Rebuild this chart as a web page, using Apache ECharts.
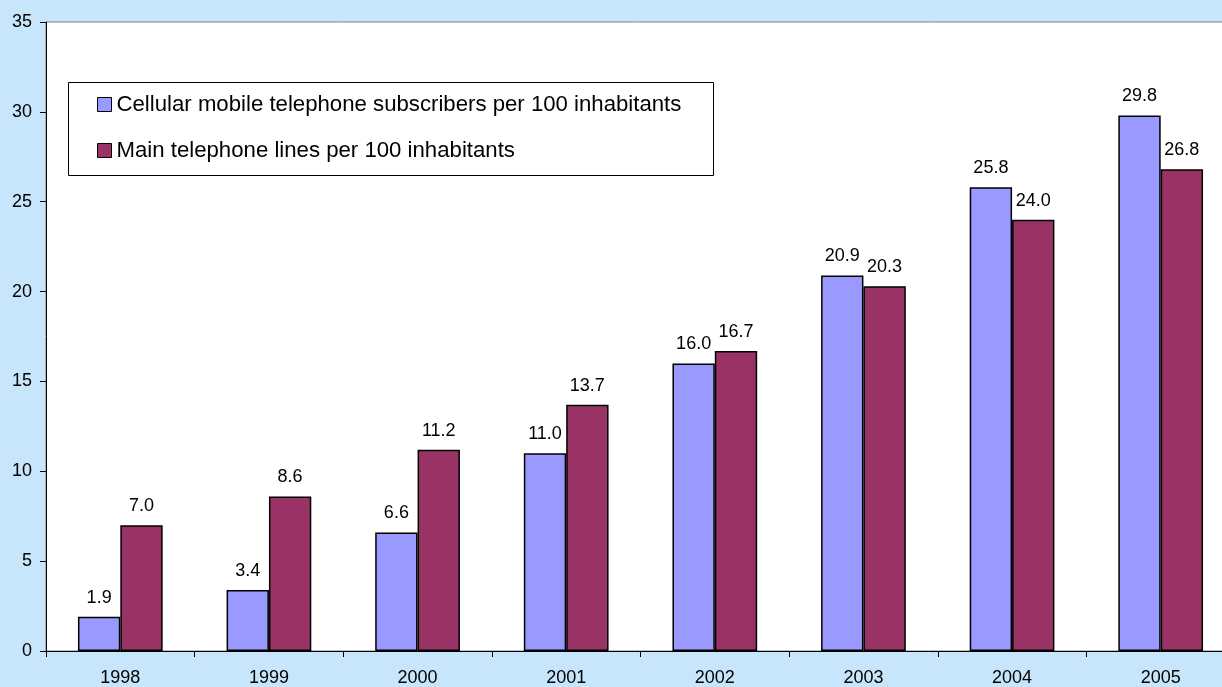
<!DOCTYPE html>
<html><head><meta charset="utf-8">
<script src="https://cdn.jsdelivr.net/npm/echarts@6/dist/echarts.min.js"></script>
<style>html,body{margin:0;padding:0;background:#C7E6FB;}#c{width:1222px;height:687px;}</style>
</head><body><div id="c"></div>
<script>
const years = ['1998','1999','2000','2001','2002','2003','2004','2005'];
const cellular = [1.9, 3.4, 6.6, 11.0, 16.0, 20.9, 25.8, 29.8];
const mainLines = [7.0, 8.6, 11.2, 13.7, 16.7, 20.3, 24.0, 26.8];
const seriesNames = ['Cellular mobile telephone subscribers per 100 inhabitants', 'Main telephone lines per 100 inhabitants'];
const FONT = '"Liberation Sans", Arial, sans-serif';
const chart = echarts.init(document.getElementById('c'));
const lbl = {show:true, position:'top', distance:10, color:'#000', fontSize:18, fontFamily:FONT, formatter: p => p.value.toFixed(1)};
chart.setOption({
  backgroundColor:'#C7E6FB',
  animation:false,
  grid:{left:46, width:1189, top:22, height:629, outerBoundsMode:'none', containLabel:false,
    show:true, backgroundColor:'#fff', borderColor:'#808080', borderWidth:1},
  legend:{
    orient:'vertical', left:97, top:93.5, padding:0, itemWidth:14, itemHeight:14, itemGap:24,
    icon:'rect', z:10,
    textStyle:{fontSize:22.2, fontFamily:FONT, color:'#000'},
    itemStyle:{borderColor:'#000', borderWidth:1},
    data:seriesNames
  },
  graphic:[{type:'rect', left:68, top:82, shape:{width:645, height:93}, style:{fill:'#fff', stroke:'#000', lineWidth:1}, z:5, silent:true}],
  xAxis:{type:'category', data:years,
    axisLine:{lineStyle:{color:'#000'}}, axisTick:{show:true, length:6, lineStyle:{color:'#000'}},
    axisLabel:{color:'#000', fontSize:18, fontFamily:FONT, margin:18}},
  yAxis:{type:'value', min:0, max:35, interval:5,
    axisLine:{show:true, lineStyle:{color:'#000'}}, axisTick:{show:true, length:6, lineStyle:{color:'#000'}},
    splitLine:{show:false},
    axisLabel:{color:'#000', fontSize:18, fontFamily:FONT, margin:14}},
  series:[
    {name:seriesNames[0], type:'bar', data:cellular, barGap:'0%', barCategoryGap:'43%',
     itemStyle:{color:'#9999FF', borderColor:'#000', borderWidth:1.5}, label:lbl},
    {name:seriesNames[1], type:'bar', data:mainLines, barGap:'0%', barCategoryGap:'43%',
     itemStyle:{color:'#993366', borderColor:'#000', borderWidth:1.5}, label:lbl}
  ]
});
</script></body></html>
